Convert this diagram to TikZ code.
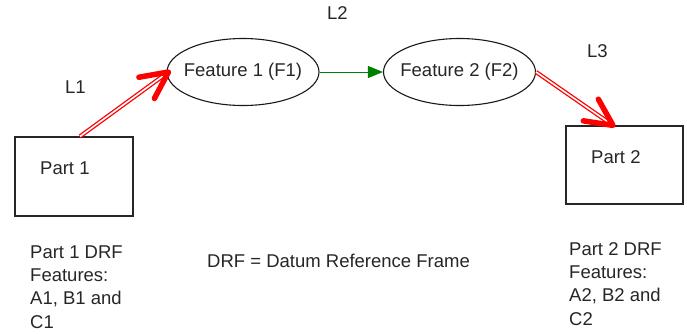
\documentclass[tikz,border=0pt]{standalone}
\usepackage{fontspec}
\setmainfont{Liberation Sans}
\usetikzlibrary{arrows.meta,calc,shapes.geometric}
\newcommand\dgmfont{\fontsize{18.5}{23.2}\selectfont}
\begin{document}
\begin{tikzpicture}[x=1pt,y=-1pt,
  box/.style={draw=black!85, line width=1.2pt, minimum width=118pt, minimum height=79pt, inner sep=0},
  feat/.style={ellipse, draw=black!90, line width=1.1pt, minimum width=152pt, minimum height=67pt, inner xsep=-10pt, inner ysep=0pt, font=\dgmfont, text=black!85},
  txt/.style={font=\dgmfont, inner sep=0, text=black!85},
  dbl/.style={draw=red, line width=1.3pt, double=white, double distance=1.6pt},
  barb/.style={draw=red, line width=5.5pt, line cap=round, line join=round},
  grn/.style={draw=green!50!black, line width=1pt, -{Triangle[length=15pt,width=12pt,fill=green!50!black]}}]
\useasboundingbox (0,0) rectangle (687,333);
% parts
\node[box] (p1) at (74,176.5) {};
\node[txt, anchor=base west] (p1t) at (40,174) {Part 1};
\node[box, minimum width=117pt, minimum height=78pt] (p2) at (624.5,165) {};
\node[txt, anchor=base west] (p2t) at (591,163) {Part 2};
% features
\node[feat] (f1) at (243,72) {Feature 1 (F1)};
\node[feat] (f2) at (459.5,72) {Feature 2 (F2)};
% labels
\node[txt, anchor=base west] (l1) at (65,93) {L1};
\node[txt, anchor=base west] (l2) at (327,19) {L2};
\node[txt, anchor=base west] (l3) at (587,57) {L3};
\node[txt, anchor=base west] (drf) at (207,267) {DRF = Datum Reference Frame};
\node[txt, anchor=base west, align=left] (d1) at (30,328) {Part 1 DRF\\Features:\\A1, B1 and\\C1};
\node[txt, anchor=base west, align=left] (d2) at (569,325) {Part 2 DRF\\Features:\\A2, B2 and\\C2};
% connectors
\coordinate (s1) at ($(p1.north)+(6,0)$);
\coordinate (t1) at ($(f1.west)+(2,0)$);
\draw[dbl, shorten >=2pt] (s1) -- (t1);
\draw[barb] ($(t1)!30pt!26:(s1)$) -- (t1) -- ($(t1)!30pt!-26:(s1)$);
\draw[grn] (f1.east) -- (f2.west);
\coordinate (t3) at ($(p2.north)+(-11.5,0)$);
\draw[dbl, shorten >=2pt] (f2.east) -- (t3);
\draw[barb] ($(t3)!30pt!26:(f2.east)$) -- (t3) -- ($(t3)!30pt!-26:(f2.east)$);
\end{tikzpicture}
\end{document}
